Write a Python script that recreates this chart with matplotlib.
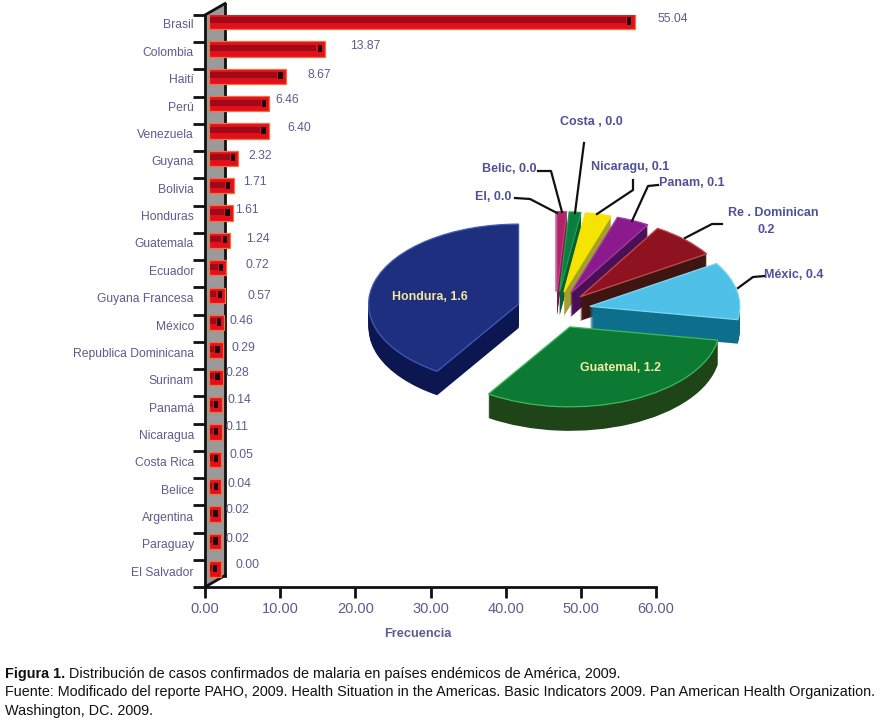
import matplotlib
matplotlib.use('Agg')
from matplotlib import pyplot as plt
import numpy as np

plt.rcParams['font.family'] = ['Liberation Sans', 'DejaVu Sans']

W, H = 891, 723

countries = ['Brasil', 'Colombia', 'Haití', 'Perú', 'Venezuela', 'Guyana', 'Bolivia',
             'Honduras', 'Guatemala', 'Ecuador', 'Guyana Francesa', 'México',
             'Republica Dominicana', 'Surinam', 'Panamá', 'Nicaragua', 'Costa Rica',
             'Belice', 'Argentina', 'Paraguay', 'El Salvador']
freq = [55.04, 13.87, 8.67, 6.46, 6.40, 2.32, 1.71, 1.61, 1.24, 0.72, 0.57, 0.46,
        0.29, 0.28, 0.14, 0.11, 0.05, 0.04, 0.02, 0.02, 0.00]
freq_ticks = [0, 10, 20, 30, 40, 50, 60]

pie_values = [1.61, 1.24, 0.46, 0.29, 0.14, 0.11, 0.05, 0.04, 0.00]
pie_top = ['#1d2f7e', '#0c7a33', '#4fc0e8', '#8f1220', '#8a1a8e', '#f5e400', '#0a7f3f', '#b0256a', '#b0256a']
pie_side = ['#0c1650', '#1e4417', '#0e6f8c', '#3f1512', '#4a0f55', '#a5a02a', '#0a5d2e', '#7a1a4a', '#7a1a4a']
pie_edge = ['#3f5cb8', '#3dbb5c', '#7fd8f0', '#c0504d', '#a040a0', '#f5e400', '#20a050', '#c04080', '#c04080']

TEXT = '#5c5c90'
LABEL = '#50509a'


def px_axes(x0, y0, x1, y1):
    # axes placed by its pixel box, y counted from the top of the image
    return fig.add_axes([x0 / W, 1 - y1 / H, (x1 - x0) / W, (y1 - y0) / H])


fig = plt.figure(figsize=(W / 100, H / 100), dpi=100)

# bar chart
ax = px_axes(205, 15, 656, 587)
ax.set_xlim(0, 60)
row = 27.37
ax.set_ylim((587 - 21.5) / row, (15 - 21.5) / row)

# gray back wall, shifted back like the 3D original
depth_x, depth_y = 20 * 60 / 451, 11.5 / row
ylo, yhi = ax.get_ylim()
ax.fill([0, depth_x, depth_x, 0], [ylo, ylo - depth_y, yhi - depth_y, yhi],
        color='#9a9a9a', zorder=1, clip_on=False)
ax.plot([depth_x, depth_x], [ylo - depth_y, yhi - depth_y], color='#111111', lw=2, zorder=2, clip_on=False)
ax.plot([0, depth_x], [ylo, ylo - depth_y], color='#111111', lw=2, zorder=2, clip_on=False)
ax.plot([0, depth_x], [yhi, yhi - depth_y], color='#111111', lw=2, zorder=2, clip_on=False)

y = np.arange(len(countries))
v = np.array(freq)
inset = 0.55
cap = 1.55
ax.barh(y, v + cap, left=inset, height=0.56, color='#e2101c', edgecolor='#f4703c', linewidth=0.9, zorder=3)
# darker inner face, then the open end of the tube
ax.barh(y - 0.04, v + cap - 0.8, left=inset + 0.1, height=0.22, color='#a00a18', linewidth=0, zorder=4)
ax.barh(y - 0.02, [0.85] * len(y), left=inset + v + cap - 1.15, height=0.36, color='#e2101c', linewidth=0, zorder=5)
ax.barh(y - 0.02, [0.55] * len(y), left=inset + v + cap - 1.0, height=0.26, color='#1c0a08', linewidth=0, zorder=6)

for side in ['top', 'right']:
    ax.spines[side].set_visible(False)
for side in ['left', 'bottom']:
    ax.spines[side].set_linewidth(2)
    ax.spines[side].set_color('#111111')
ax.patch.set_visible(False)

ax.set_xticks(freq_ticks)
ax.set_xticklabels(['%.2f' % t for t in freq_ticks], fontsize=10.5, color=TEXT)
ax.tick_params(axis='x', length=8, width=2, color='#111111', pad=3)

# labels on the categories, tick marks between them
ax.set_yticks(y + 0.09)
ax.set_yticklabels(countries, fontsize=8.7, color=TEXT)
ax.tick_params(axis='y', which='major', length=0, pad=8)
ax.set_yticks(np.linspace(ylo, yhi, len(countries) + 1), minor=True)
ax.tick_params(axis='y', which='minor', length=9, width=2, color='#111111')

# exploded pie, squashed to an ellipse, side built from stacked copies
cx, cy, ra, rb = 556, 310, 150, 80
pie = px_axes(cx - 1.6 * ra, cy - 1.6 * rb, cx + 1.6 * ra, cy + 1.6 * rb)
explode = [0.26] + [0.23] * (len(pie_values) - 1)
layers = 24
for k in range(layers, 0, -1):
    pie.pie(pie_values, explode=explode, startangle=90, normalize=True,
            colors=pie_side, center=(0, -k / rb), wedgeprops={'linewidth': 0})
wedges, _ = pie.pie(pie_values, explode=explode, startangle=90, normalize=True, colors=pie_top,
                    wedgeprops={'linewidth': 0.9})
for w, c in zip(wedges, pie_edge):
    w.set_edgecolor(c)
pie.set_aspect('auto')
pie.set_xlim(-1.6, 1.6)
pie.set_ylim(-1.6, 1.6)
pie.axis('off')

# overlay in image pixels for the labels, leaders and caption
over = fig.add_axes([0, 0, 1, 1])
over.set_xlim(0, W)
over.set_ylim(H, 0)
over.axis('off')

bar_text = [(658, 19), (350, 46), (308, 75), (275, 100), (287, 128), (248, 156), (243, 182),
            (235, 210), (246, 239), (246, 265), (248, 296), (230, 321), (232, 348), (226, 373),
            (228, 400), (226, 427), (229, 455), (228, 484), (226, 510), (226, 539), (236, 565)]
for val, (tx, ty) in zip(freq, bar_text):
    over.text(tx, ty, '%.2f' % val, fontsize=8.8, color=TEXT, ha='left', va='center')

leaders = [
    [(584, 143), (575, 213)],
    [(538, 171), (551, 171), (562, 212)],
    [(515, 198), (530, 199), (557, 213)],
    [(633, 180), (633, 190), (597, 214)],
    [(658, 185), (648, 186), (632, 221)],
    [(722, 224), (712, 224), (685, 238)],
    [(765, 276), (753, 277), (738, 288)],
]
for line in leaders:
    xs, ys = zip(*line)
    over.plot(xs, ys, color='#111111', lw=1.6)

pie_text = [('Costa , 0.0', 560, 122), ('Belic, 0.0', 482, 169), ('El, 0.0', 475, 197),
            ('Nicaragu, 0.1', 591, 167), ('Panam, 0.1', 659, 183), ('Re . Dominican', 728, 213),
            ('0.2', 758, 230), ('Méxic, 0.4', 764, 275)]
for s, tx, ty in pie_text:
    over.text(tx, ty, s, fontsize=9, fontweight='bold', color=LABEL, ha='left', va='center')
over.text(392, 297, 'Hondura, 1.6', fontsize=8.9, fontweight='bold', color='#f2e6a0', ha='left', va='center')
over.text(580, 368, 'Guatemal, 1.2', fontsize=8.9, fontweight='bold', color='#f2eaa0', ha='left', va='center')

over.text(418, 634, 'Frecuencia', fontsize=9.2, fontweight='bold', color=TEXT, ha='center', va='center')

# caption
bold = over.text(5, 674, 'Figura 1.', fontsize=10.4, fontweight='bold', color='#111111', ha='left', va='center')
over.annotate(' Distribución de casos confirmados de malaria en países endémicos de América, 2009.',
              xy=(1, 0.5), xycoords=bold, fontsize=10.4, color='#111111', ha='left', va='center')
over.text(5, 692, 'Fuente: Modificado del reporte PAHO, 2009. Health Situation in the Americas. '
          'Basic Indicators 2009. Pan American Health Organization.', fontsize=10.4, color='#111111',
          ha='left', va='center')
over.text(5, 711, 'Washington, DC. 2009.', fontsize=10.4, color='#111111', ha='left', va='center')

fig.savefig('out.png', dpi=100)
